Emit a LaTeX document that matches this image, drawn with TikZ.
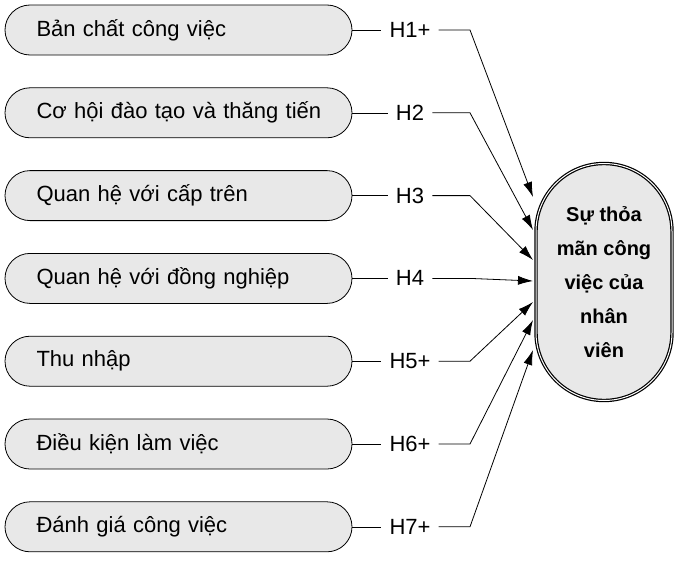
\documentclass[tikz,border=0pt]{standalone}
\usepackage{fontspec}
\setmainfont{Liberation Sans}
\usetikzlibrary{shapes.misc,arrows.meta}
\begin{document}
\begin{tikzpicture}[x=1pt,y=-1pt,
  factor/.style={draw,thick,rounded rectangle,fill=gray!18,minimum width=347pt,minimum height=50pt,font=\fontsize{22}{24}\selectfont,text width=300pt,align=left,inner xsep=0pt},
  hlab/.style={font=\fontsize{22}{24}\selectfont,inner xsep=8pt},
  arr/.style={-{Latex[length=15pt,width=9pt]},line width=0.8pt}]
\useasboundingbox (0,0) rectangle (680,562);
\node[draw,very thick,double,double distance=1pt,fill=gray!18,rounded corners=68pt,minimum width=136pt,minimum height=237pt,align=center,font=\bfseries\fontsize{20}{34}\selectfont] (T) at (604,282) {Sự thỏa\\mãn công\\việc của\\nhân\\viên};
\foreach \i/\t/\h/\ty in {1/Bản chất công việc/H1+/197,2/Cơ hội đào tạo và thăng tiến/H2/230,3/Quan hệ với cấp trên/H3/260,4/Quan hệ với đồng nghiệp/H4/281,5/Thu nhập/H5+/302,6/Điều kiện làm việc/H6+/320,7/Đánh giá công việc/H7+/350}{
  \pgfmathsetmacro\y{30+83*(\i-1)-0.2*(\i-1)}
  \node[factor] (f\i) at (178.5,\y) {\hspace*{8pt}\t};
  \node[hlab] (h\i) at (410,\y) {\h};
  \coordinate (k\i) at (470,\y);
  \coordinate (t\i) at (533,\ty);
  \draw[line width=0.6pt] (f\i.east) -- (h\i.west);
  \draw[arr] (h\i.east) -- (k\i) -- (t\i);
}
\end{tikzpicture}
\end{document}
